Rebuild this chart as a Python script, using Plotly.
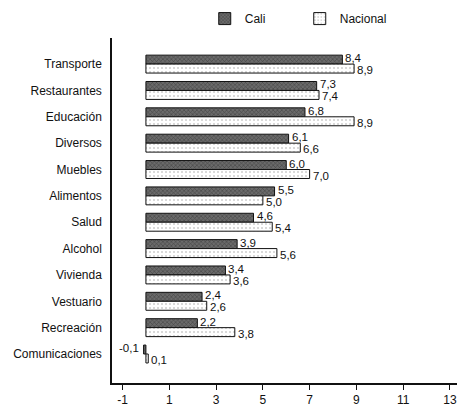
import plotly.graph_objects as go

categorias = ["Transporte", "Restaurantes", "Educación", "Diversos", "Muebles",
              "Alimentos", "Salud", "Alcohol", "Vivienda", "Vestuario",
              "Recreación", "Comunicaciones"]
cali = [8.4, 7.3, 6.8, 6.1, 6.0, 5.5, 4.6, 3.9, 3.4, 2.4, 2.2, -0.1]
nacional = [8.9, 7.4, 8.9, 6.6, 7.0, 5.0, 5.4, 5.6, 3.6, 2.6, 3.8, 0.1]
ticks_x = [-1, 1, 3, 5, 7, 9, 11, 13]

FONT = "Liberation Sans, Arial, sans-serif"


def fmt(v):
    return f"{v:.1f}".replace(".", ",")


fig = go.Figure()
fig.add_trace(go.Bar(
    name="Cali", y=categorias, x=cali, orientation="h",
    marker=dict(color="#5e5e5e", line=dict(color="#111", width=1),
                pattern=dict(shape="x", fgcolor="#1e1e1e", bgcolor="#6a6a6a",
                             size=3, solidity=0.35)),
))
fig.add_trace(go.Bar(
    name="Nacional", y=categorias, x=nacional, orientation="h",
    marker=dict(color="white", line=dict(color="#111", width=1),
                pattern=dict(shape=".", fgcolor="#9a9a9a", bgcolor="white",
                             size=4, solidity=0.2)),
))

annotations = []
for cat, v in zip(categorias, cali):
    annotations.append(dict(
        x=v, y=cat, xref="x", yref="y", text=fmt(v), showarrow=False,
        xanchor="left" if v >= 0 else "right", yanchor="middle",
        xshift=1 if v >= 0 else -3, yshift=6,
        font=dict(family=FONT, size=11.5, color="#111")))
for cat, v in zip(categorias, nacional):
    annotations.append(dict(
        x=v, y=cat, xref="x", yref="y", text=fmt(v), showarrow=False,
        xanchor="left" if v >= 0 else "right", yanchor="middle",
        xshift=1 if v >= 0 else -3, yshift=-6,
        font=dict(family=FONT, size=11.5, color="#111")))

fig.update_layout(
    width=457, height=409,
    margin=dict(l=112, r=0, t=38, b=26),
    paper_bgcolor="white", plot_bgcolor="white",
    barmode="group", bargap=0.32, bargroupgap=0,
    font=dict(family=FONT, size=12, color="#111"),
    showlegend=True,
    annotations=annotations,
    legend=dict(orientation="h", xref="container", yref="container",
                x=0.448, y=0.99, xanchor="left", yanchor="top",
                entrywidth=50,
                font=dict(family=FONT, size=12, color="#111"),
                bgcolor="rgba(0,0,0,0)"),
    xaxis=dict(range=[-1.45, 13.3], tickmode="array", tickvals=ticks_x,
               ticktext=[str(t) for t in ticks_x], automargin=False,
               showgrid=False, zeroline=False, showline=True,
               linecolor="#111", linewidth=1.5, ticks="outside",
               ticklen=5, tickcolor="#111",
               tickfont=dict(family=FONT, size=12, color="#111")),
    yaxis=dict(categoryorder="array", categoryarray=categorias,
               range=[12.1, -0.99], showgrid=False, zeroline=False,
               automargin=False,
               showline=True, linecolor="#111", linewidth=1.5, ticks="",
               ticklabelstandoff=6,
               tickfont=dict(family=FONT, size=12, color="#111")),
)

fig.write_html("out.html",
               config={"displayModeBar": False},
               post_script="document.body.style.margin='0px';"
                           "document.body.style.overflow='hidden';")
